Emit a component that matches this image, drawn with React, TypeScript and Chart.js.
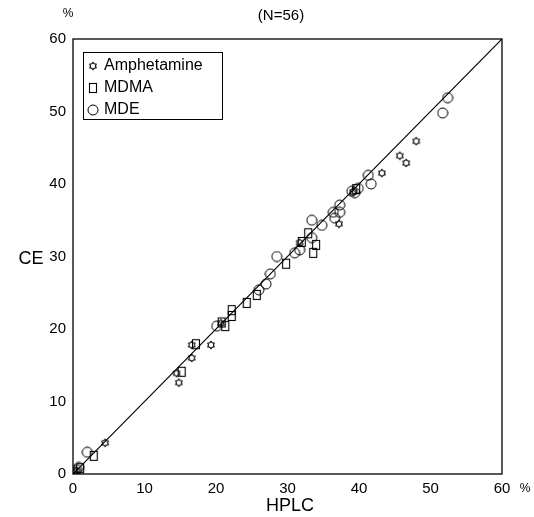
import React, { useEffect, useRef } from "react";
import { Chart, registerables } from "chart.js";

Chart.register(...registerables);

const xTicks = [0, 10, 20, 30, 40, 50, 60];
const legendLabels = ["Amphetamine", "MDMA", "MDE"];
const titleText = "(N=56)";

const amphetamine = [
  { x: 0.3, y: 0.5 }, { x: 0.6, y: 0.4 }, { x: 4.5, y: 4.3 }, { x: 14.5, y: 13.9 },
  { x: 14.8, y: 12.6 }, { x: 16.6, y: 17.8 }, { x: 16.6, y: 16.0 }, { x: 19.3, y: 17.8 },
  { x: 20.7, y: 20.8 }, { x: 31.7, y: 31.9 }, { x: 37.2, y: 34.5 }, { x: 39.2, y: 38.9 },
  { x: 43.2, y: 41.5 }, { x: 45.7, y: 43.9 }, { x: 46.6, y: 42.9 }, { x: 48.0, y: 45.9 },
];
const mdma = [
  { x: 1.0, y: 0.8 }, { x: 2.9, y: 2.5 }, { x: 15.2, y: 14.1 }, { x: 17.2, y: 17.9 },
  { x: 21.3, y: 20.4 }, { x: 20.8, y: 20.9 }, { x: 22.2, y: 21.8 }, { x: 22.2, y: 22.6 },
  { x: 24.3, y: 23.6 }, { x: 25.7, y: 24.7 }, { x: 29.8, y: 29.0 }, { x: 32.0, y: 32.0 },
  { x: 32.9, y: 33.2 }, { x: 33.6, y: 30.5 }, { x: 34.0, y: 31.6 }, { x: 39.6, y: 39.3 },
];
const mde = [
  { x: 0.5, y: 0.6 }, { x: 0.8, y: 0.9 }, { x: 2.0, y: 3.0 }, { x: 20.1, y: 20.4 },
  { x: 26.0, y: 25.4 }, { x: 27.0, y: 26.2 }, { x: 27.6, y: 27.6 }, { x: 28.5, y: 30.0 },
  { x: 31.0, y: 30.5 }, { x: 31.7, y: 30.9 }, { x: 33.4, y: 32.6 }, { x: 33.4, y: 35.0 },
  { x: 34.8, y: 34.3 }, { x: 36.4, y: 36.1 }, { x: 37.3, y: 36.1 }, { x: 36.6, y: 35.3 },
  { x: 37.3, y: 37.1 }, { x: 39.4, y: 38.8 }, { x: 39.9, y: 39.4 }, { x: 39.0, y: 39.0 },
  { x: 41.3, y: 41.2 }, { x: 41.7, y: 40.0 }, { x: 51.7, y: 49.8 }, { x: 52.4, y: 51.9 },
];
const identityLine = [{ x: 0, y: 0 }, { x: 60, y: 60 }];

function makeStar(): HTMLCanvasElement {
  const c = document.createElement("canvas");
  c.width = 10; c.height = 10;
  const g = c.getContext("2d")!;
  g.strokeStyle = "#000"; g.lineWidth = 1.1;
  g.beginPath();
  for (let i = 0; i < 12; i++) {
    const r = i % 2 === 0 ? 3.7 : 2.5;
    const a = (Math.PI * 2 * i) / 12 - Math.PI / 2;
    const px = 5 + r * Math.cos(a), py = 5 + r * Math.sin(a);
    if (i === 0) g.moveTo(px, py); else g.lineTo(px, py);
  }
  g.closePath(); g.stroke();
  return c;
}
function makeRect(): HTMLCanvasElement {
  const c = document.createElement("canvas");
  c.width = 10; c.height = 12;
  const g = c.getContext("2d")!;
  g.strokeStyle = "#000"; g.lineWidth = 1.1;
  g.strokeRect(1.5, 1.5, 7, 9);
  return c;
}
function makeCircle(): HTMLCanvasElement {
  const c = document.createElement("canvas");
  c.width = 12; c.height = 12;
  const g = c.getContext("2d")!;
  g.strokeStyle = "#000"; g.lineWidth = 1;
  g.beginPath(); g.arc(6, 6, 5, 0, Math.PI * 2); g.stroke();
  return c;
}

export default function App() {
  const ref = useRef<HTMLCanvasElement>(null);
  useEffect(() => {
    const star = makeStar(), rect = makeRect(), circ = makeCircle();
    const font = "Arial, 'Liberation Sans', sans-serif";
    const decor = {
      id: "decor",
      afterDraw(chart: any) {
        const { ctx, chartArea: a } = chart;
        ctx.save();
        ctx.strokeStyle = "#000";
        ctx.lineWidth = 1.3;
        ctx.strokeRect(a.left, a.top, a.right - a.left, a.bottom - a.top);
        ctx.fillStyle = "#000";
        ctx.textBaseline = "middle";
        ctx.textAlign = "center";
        ctx.font = `15px ${font}`;
        ctx.fillText(titleText, 281, 16);
        ctx.font = `12px ${font}`;
        ctx.fillText("%", 68, 14);
        ctx.fillText("%", 525, 489);
        ctx.font = `18px ${font}`;
        ctx.fillText("CE", 31, 259);
        ctx.fillText("HPLC", 290, 506);
        // legend
        ctx.lineWidth = 1;
        ctx.strokeRect(83.5, 52.5, 139, 67);
        const imgs = [star, rect, circ];
        ctx.font = `16px ${font}`;
        ctx.textAlign = "left";
        legendLabels.forEach((t, i) => {
          const cy = 66 + i * 22;
          const im = imgs[i];
          ctx.drawImage(im, Math.round(93 - im.width / 2), Math.round(cy - im.height / 2));
          ctx.fillText(t, 104, cy);
        });
        ctx.restore();
      },
    };
    const chart = new Chart(ref.current!, {
      type: "scatter",
      data: {
        datasets: [
          { label: "line", data: identityLine, showLine: true, pointRadius: 0, borderColor: "#000", borderWidth: 1.2 } as any,
          { label: legendLabels[0], data: amphetamine, pointStyle: star, borderColor: "#000" } as any,
          { label: legendLabels[1], data: mdma, pointStyle: rect, borderColor: "#000" } as any,
          { label: legendLabels[2], data: mde, pointStyle: circ, borderColor: "#000" } as any,
        ],
      },
      options: {
        responsive: false,
        animation: false,
        layout: { padding: { left: 0, top: 39, right: 32, bottom: 0 } },
        plugins: { legend: { display: false }, tooltip: { enabled: false }, title: { display: false } },
        scales: {
          x: {
            type: "linear", min: 0, max: 60,
            afterBuildTicks: (s: any) => { s.ticks = xTicks.map((v) => ({ value: v })); },
            afterFit: (s: any) => { s.height = 43; },
            grid: { display: false, drawTicks: false },
            border: { display: false },
            ticks: { color: "#000", font: { family: font, size: 15 }, padding: 6 },
          },
          y: {
            type: "linear", min: 0, max: 60,
            afterBuildTicks: (s: any) => { s.ticks = xTicks.map((v) => ({ value: v })); },
            afterFit: (s: any) => { s.width = 73; },
            grid: { display: false, drawTicks: false },
            border: { display: false },
            ticks: { color: "#000", font: { family: font, size: 15 }, padding: 7 },
          },
        },
      },
      plugins: [decor],
    });
    return () => chart.destroy();
  }, []);
  return (
    <div style={{ position: "absolute", left: 0, top: 0, width: 534, height: 517, background: "#fff" }}>
      <canvas ref={ref} width={534} height={517} />
    </div>
  );
}
